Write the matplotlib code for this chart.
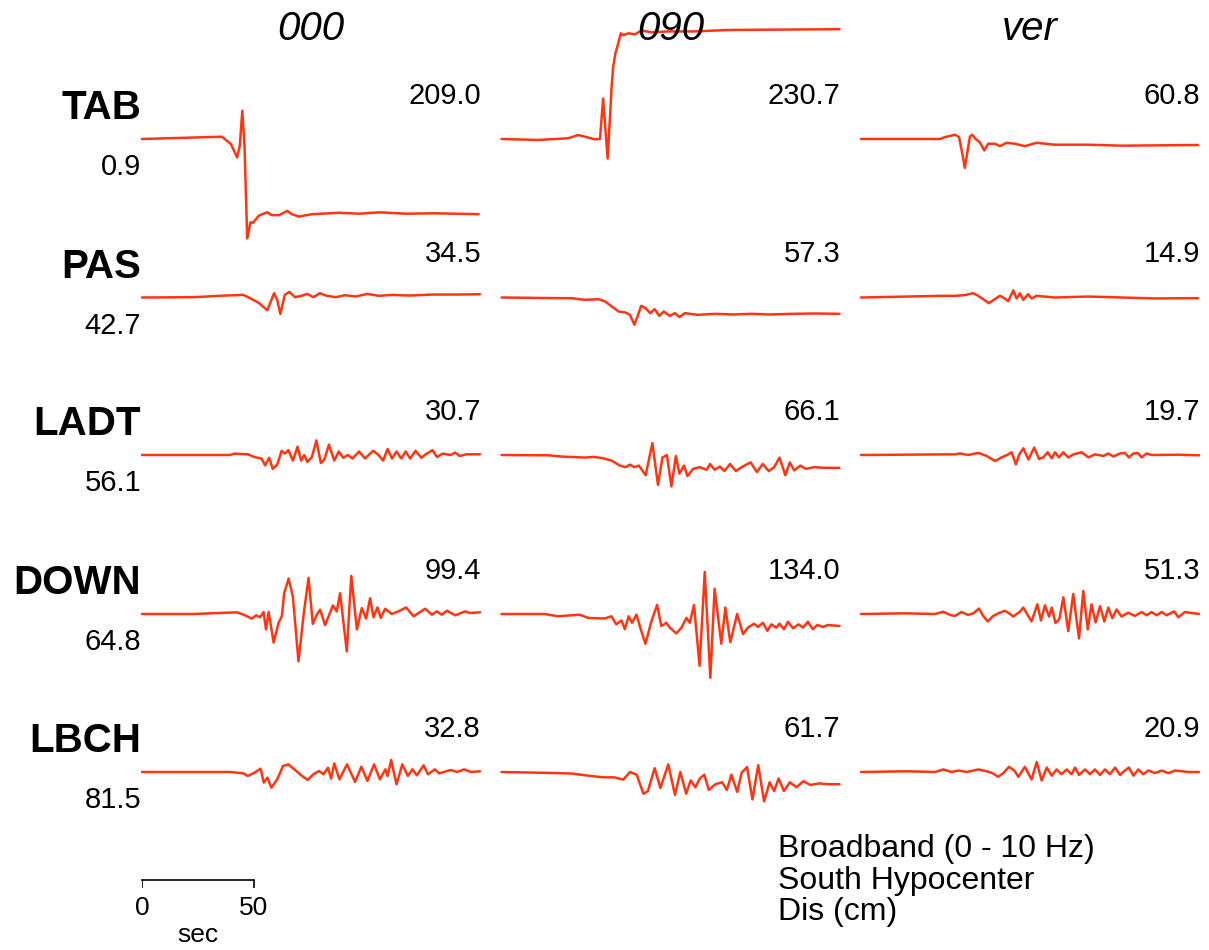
import matplotlib
matplotlib.use("Agg")
import matplotlib.pyplot as plt
from matplotlib import transforms

plt.rcParams['font.family'] = ['Liberation Sans', 'DejaVu Sans']

# ---- data: displacement traces, (time s, displacement cm) ----
TAB_000 = [(0, 0), (35.7, 4.8), (39.7, -10.5), (42.5, -38.6), (43.7, -14), (44.8, 59.4), (45.8, -14),
           (47.0, -209), (48.5, -175), (49.6, -176), (52.2, -161), (55.9, -154), (58.0, -160), (61.2, -160),
           (64.9, -151), (67.0, -158), (70.1, -163), (75.9, -158), (87.9, -155), (97, -157), (106, -154),
           (118, -157), (130, -156), (140, -157), (150.4, -158)]
TAB_090 = [(0, 0), (16.4, -2), (29.8, 1.5), (34.3, 8.4), (37.3, 4.8), (41.7, -0.6), (44.0, 0), (45.4, 85),
           (47.4, -41), (48.4, 40), (49.2, 110), (49.9, 152), (50.9, 180), (52.1, 200), (53.3, 222),
           (54.4, 218), (56.6, 222), (59.6, 220), (62.6, 228), (67.1, 224), (74.5, 226), (86.4, 226),
           (101.2, 229), (151, 230.7)]
TAB_VER = [(0, 0), (35.3, 0), (37.5, 4), (42, 9), (43.8, 4), (45.2, -29), (46.4, -60.8), (47.7, -22),
           (48.7, 5.5), (49.7, 9), (51.2, 0), (53.1, -7), (55.1, -24), (56.8, -10), (59.8, -10), (62.1, -15),
           (65, -8), (68.8, -10), (73.2, -15), (78.4, -8), (86.6, -12), (101.5, -12), (116.4, -14),
           (150.6, -12.6)]

PAS_000 = [(0, 0), (23.2, 0.7), (37.2, 4.1), (45.3, 5.5), (48.3, -1.4), (52.3, -11.7), (56, -26.9), (59, 9),
           (60.4, -4.8), (61.8, -34.5), (63.8, 5.5), (65.8, 11.7), (68.4, 0.7), (71.1, 3.5), (73.9, 7.6),
           (76.5, 0.7), (79.5, 9), (82.5, 3.5), (86.6, 0.7), (90.6, 4.8), (95.6, 2.1), (100.7, 7.6),
           (105.7, 3.5), (111.7, 5.5), (119.8, 4.1), (129.8, 6.2), (139.9, 6.2), (151, 6.9)]
PAS_090 = [(0, 0), (25.2, -1.4), (31.2, -1.4), (37.2, -4.9), (43.3, -3.5), (46.3, -8.4), (49.3, -18.9),
           (52.3, -29.4), (55.4, -31.5), (57.4, -36.4), (59.4, -57.3), (61, -36.4), (62.4, -17.5),
           (64.4, -22.4), (66.4, -32.9), (68.4, -24.5), (70.5, -38.5), (72.5, -29.4), (75.1, -38.5),
           (77.5, -32.9), (79.5, -41.3), (81.9, -32.9), (87.6, -36.4), (95.6, -34.3), (103.7, -35.7),
           (111.7, -34.3), (119.8, -35.7), (129.8, -34.3), (139.9, -33.6), (151, -34.3)]
PAS_VER = [(0, 0), (36, 3.5), (42, 3.5), (46.4, 5), (50.1, 9), (52.4, 3.5), (54.6, -3.5), (57.1, -12),
           (59.8, -3.5), (62.1, 3.5), (63.5, 0), (65.8, -7.7), (68, 14.9), (69.5, -2), (71, 9), (72.5, -5),
           (74.7, 7), (76.2, -2), (78.4, 3.5), (86.6, 0), (101.5, 2), (116.4, 0), (131.3, -2), (150.6, -1.4)]

LADT_000 = [(0, 0), (39.3, 0), (41.3, 2.9), (47.3, 1.5), (50.3, -4.4), (53.4, -7.3), (55, -21.9), (56.8, -5.8),
            (58.4, -29.2), (60.4, -20.4), (62.4, 8.8), (63.8, 2.9), (65.4, 10.2), (67.4, -11.7), (69.5, 17.5),
            (71.1, -11.7), (72.5, 0), (73.9, -14.6), (75.9, -4.4), (77.9, 30.7), (79.9, -16.8), (81.5, -9.5),
            (83.5, 21.9), (85.9, -11.7), (87.9, 7.3), (89.9, -5.8), (92, 0), (94, -7.3), (97, 7.3),
            (99.6, -7.3), (103.3, 8.8), (105.7, 0), (107.7, -11.7), (109.7, 12.4), (111.7, -7.3), (113.7, 7.3),
            (115.8, -7.3), (117.8, 7.3), (119.8, -7.3), (122.2, 8.8), (124.8, -5.8), (126.8, 1.5),
            (129.8, 10.2), (131.8, -4.4), (134.3, 2.9), (137.9, 0), (139.9, 5.1), (141.9, -2.2), (144.9, 1.5),
            (151, 1.5)]
LADT_090 = [(0, 0), (21.1, -0.7), (27.2, -3.4), (37.2, -5.4), (41.3, -4), (45.3, -6.7), (49.3, -12.1),
            (52.9, -22.3), (55.4, -25.6), (57.4, -20.2), (59.4, -25.6), (61.4, -22.3), (64.4, -42.5),
            (67.4, 25), (69.9, -62.8), (71.9, -5.4), (73.9, 0), (75.9, -66.1), (77.9, -2), (79.5, -39.1),
            (81.5, -22.3), (83.1, -44.5), (85.6, -29), (88.6, -25.6), (91.6, -31), (93.2, -18.9), (95.2, -31),
            (97.6, -24.3), (99.6, -33.7), (102.1, -18.9), (104.7, -33.7), (107.7, -24.3), (111.3, -15.5),
            (114.1, -35.8), (116.7, -18.9), (119.4, -33.7), (121.8, -25.6), (124.2, -5.4), (126.8, -42.5),
            (128.8, -15.5), (130.8, -32.4), (133.5, -22.3), (135.9, -29), (139.9, -25.6), (143.9, -27),
            (151, -27)]
LADT_VER = [(0, 0), (36.8, 1.3), (42, 1.3), (44.2, 3.2), (47.9, 0), (52.4, 4.4), (56.1, -1.9), (59.9, -12.7),
            (62.8, -5.1), (65.8, 1.3), (67.3, 5.7), (69.2, -19.7), (70.7, 1.3), (72.5, 14), (74.8, -9.5),
            (77.4, 15.9), (79.5, -8.3), (81.4, -5.1), (83.4, 5.7), (85.2, -7), (86.7, 5.7), (88.4, -5.1),
            (90.4, 5.7), (92.6, -5.1), (94.9, 1.3), (98.6, 5.7), (101.6, -5.1), (104.5, 1.3), (108.3, -1.9),
            (110.5, 3.2), (112.7, -3.2), (115.7, 3.2), (117.9, 4.4), (119.7, -5.1), (121.7, 3.2), (123.6, 4.4),
            (125.4, -5.1), (127.6, 3.2), (129.8, 0), (141.8, 0.6), (151, -0.6)]

DOWN_000 = [(0, 0), (23.1, 0), (42.4, 3.5), (45.4, -1.4), (49.1, -9.7), (51, -2.8), (52.8, -6.9), (54.3, 4.1),
            (55.4, -32.4), (56.6, 4.1), (58.8, -60), (61, -18.6), (62.5, -4.8), (63.5, 43.5), (65.5, 74.5),
            (67.4, 36.6), (69.9, -99.4), (72.2, -1.4), (74.4, 75.9), (76.3, -20.7), (78.1, -1.4), (79.6, 9),
            (81.8, -23.5), (85.3, 17.9), (87, 5.5), (88.5, 43.5), (91.5, -78.7), (93.5, 80), (96, -32.4),
            (98.2, 12.4), (100.1, -9.7), (101.9, 33.1), (103.4, -6.9), (105.2, 13.8), (106.7, -8.3),
            (108.6, 11), (111.6, 0), (114.6, 5.5), (118, 13.8), (121.3, -4.8), (126.5, 11), (129.5, -1.4),
            (131.7, 5.5), (133.9, -1.4), (136.2, 6.9), (140, -2.8), (144.3, 5.5), (146.6, 2.1), (151, 3.5)]
DOWN_090 = [(0, 0), (19.3, 0), (25.3, -4.8), (34.9, -1.4), (38.7, -8.2), (46.1, -9.5), (49.1, -4.8),
            (51.3, -21.8), (53.6, -13.6), (55.1, -32), (56.8, -4.8), (58.3, -18.4), (60.3, -1.4), (62.2, -32),
            (64.3, -62.6), (67, -15), (69.5, 19), (71.4, -25.2), (73.7, -18.4), (75.2, -28.6), (78.1, -40.8),
            (80.4, -28.6), (82.6, -8.2), (84.1, -18.4), (86, 19), (88.5, -108.8), (90.8, 88.4), (93.3, -134),
            (95.2, 53), (98.2, -62.6), (100, 13.6), (102.2, -59.2), (105.3, 0), (107.9, -42.2), (110.1, -28.6),
            (112.8, -20.4), (114.6, -27.2), (116.8, -18.4), (118.8, -35.4), (120.5, -21.8), (122.8, -28.6),
            (124.2, -20.4), (126.2, -32), (128, -16.3), (130.2, -29.9), (132.7, -21.8), (134.7, -28.6),
            (136.9, -16.3), (139.1, -32), (141.1, -23.1), (143.6, -27.2), (145.8, -23.1), (151, -25.2)]
DOWN_VER = [(0, 0), (19.7, 1.4), (33.1, 0), (36.8, 4.7), (39.8, -2), (42, -4.1), (44.9, 4.1), (47.9, -2),
            (50.2, 1.4), (52.7, 11.5), (54.6, -4.1), (56.6, -15.5), (59.1, -4.1), (61.3, 1.4), (64.3, 6.8),
            (66.6, 0), (68, -5.4), (71, 4.7), (72.5, 13.5), (74.7, -4.1), (76.2, -15.5), (78.8, 20.3),
            (80.4, -13.5), (82.2, 18.2), (84, -5.4), (85.2, 13.5), (86.9, -18.9), (88.6, -10.8), (90.4, 35.1),
            (92.6, -35.8), (94.8, 41.9), (97.4, -51.3), (99.3, 48.6), (101.3, -32.4), (103, 20.3),
            (104.8, -17.6), (106.8, 16.2), (108.7, -15.5), (110.5, 13.5), (112.3, -8.8), (114.2, 9.5),
            (116.4, -5.4), (119.4, 2.7), (122.4, -4.1), (125.4, 4.1), (127.6, -2.7), (129.8, 4.1),
            (132.1, -2.7), (134.3, 4.1), (136.5, -2.7), (139.9, 5.4), (141.8, -6.8), (144.7, 4.1), (151, 0)]

LBCH_000 = [(0, 0), (30.2, 0), (39.3, 0), (45.3, -2.8), (47.3, -8.4), (50.3, -1.4), (53, 7), (54.4, -22.3),
            (56, -11.9), (57.8, -32.8), (60.4, -15.4), (63, 12.6), (65.4, 16), (68.4, 4.2), (71.5, -8.4),
            (74.1, -16.7), (76.5, -4.9), (79.1, 2.1), (81.1, -4.9), (83.1, 9.1), (84.5, -14), (85.9, 18.1),
            (88.2, -15.4), (91.6, 16), (95.2, -20.9), (98, 11.2), (100.7, -18.8), (103.7, 16), (106.3, -15.4),
            (108.7, 5.6), (109.7, -8.4), (111.3, 25.1), (113.7, -25.8), (116.3, 16), (118.8, -8.4),
            (120.8, 5.6), (122.8, -7), (125.8, 14), (127.8, -4.9), (130.8, 5.6), (132.8, -2.8), (137.9, 4.2),
            (140.9, 0), (143.9, 5.6), (146.9, 0), (151, 1.4)]
LBCH_090 = [(0, 0), (18.1, -1.6), (31.2, -3.2), (39.3, -8), (45.3, -11.2), (50.3, -11.2), (54.4, -16),
            (57.4, 0), (60.4, -5.6), (63.4, -45.7), (65.4, -40.1), (68.4, 8), (71, -33.7), (74.5, 16),
            (77.5, -48.1), (79.9, 0), (82.5, -45.7), (84.5, -17.6), (86.6, -32.1), (88.6, -13.6), (90.6, -5.6),
            (92.6, -37.7), (95.6, -25.6), (98.6, -21.6), (100.7, -37.7), (102.7, -5.6), (105.3, -41.7),
            (107.3, -1.6), (109.7, 10.4), (112.1, -57.7), (114.7, 14.4), (117.3, -61.7), (119.8, -21.6),
            (121.8, -40.1), (123.8, -13.6), (126.2, -40.1), (128.8, -21.6), (131.8, -32.1), (134.9, -19.2),
            (137.9, -27.2), (141.9, -24), (145.9, -25.6), (151, -25.6)]
LBCH_VER = [(0, 0), (20.4, 1.5), (33.1, 0), (36.8, 5.4), (40.5, 0), (43.5, 3.1), (47.2, 0), (52.4, 5.4),
            (56.1, 1.5), (58.7, -2.3), (61.3, -10.1), (63.6, -2.3), (66.1, 10.8), (68.5, 3.1), (70.3, -10.1),
            (73.2, 10.8), (76.2, -15.5), (78.5, 20.9), (80.7, -17.8), (83, 9.3), (85.2, -7.7), (87.4, 5.4),
            (89.6, -4.6), (91.9, 5.4), (94.1, -4.6), (95.6, 9.3), (97.4, -6.2), (100.1, 5.4), (102.3, -4.6),
            (104.5, 5.4), (106.8, -6.2), (109, 5.4), (111.2, -4.6), (113.5, 9.3), (115.7, -6.2), (117.9, 3.1),
            (119.7, 9.3), (121.7, -7.7), (123.9, 5.4), (126.1, -4.6), (128.4, 3.1), (131.3, -2.3), (134.3, 3.1),
            (137.3, -2.3), (140.3, 3.1), (146.2, 0), (151, 0)]

STATIONS = ["TAB", "PAS", "LADT", "DOWN", "LBCH"]
DISTANCES = ["0.9", "42.7", "56.1", "64.8", "81.5"]
COMPONENTS = ["000", "090", "ver"]
PEAKS = [[209.0, 230.7, 60.8],
         [34.5, 57.3, 14.9],
         [30.7, 66.1, 19.7],
         [99.4, 134.0, 51.3],
         [32.8, 61.7, 20.9]]
TRACES = [[TAB_000, TAB_090, TAB_VER],
          [PAS_000, PAS_090, PAS_VER],
          [LADT_000, LADT_090, LADT_VER],
          [DOWN_000, DOWN_090, DOWN_VER],
          [LBCH_000, LBCH_090, LBCH_VER]]
SCALE_BAR_SEC = 50
NOTES = ["Broadband (0 - 10 Hz)", "South Hypocenter", "Dis (cm)"]

# ---- layout (pixels of a 1209x950 canvas) ----
W, H = 1209, 950
COL_LEFT = [142, 501.5, 861]
COL_W = 338
ROW_BASE = [139, 297.5, 455, 614, 772]
T_MAX = 151
PX_PER_CM = 0.476
Y_HALF = 260  # cm shown above/below baseline in every trace axes
COLOR = '#ff3512'

fig = plt.figure(figsize=(W / 100, H / 100), dpi=100)


def fx(px):
    return px / W


def fy(py):
    return 1 - py / H


half_px = Y_HALF * PX_PER_CM
for r, station in enumerate(STATIONS):
    base = ROW_BASE[r]
    for c in range(3):
        ax = fig.add_axes([fx(COL_LEFT[c]), fy(base + half_px), COL_W / W, 2 * half_px / H])
        ax.patch.set_alpha(0)
        ax.axis('off')
        pts = TRACES[r][c]
        ax.plot([p[0] for p in pts], [p[1] for p in pts], color=COLOR, lw=1.8,
                solid_joinstyle='round', solid_capstyle='round', clip_on=False)
        ax.set_xlim(0, T_MAX)
        ax.set_ylim(-Y_HALF, Y_HALF)
        fig.text(fx(COL_LEFT[c] + COL_W + 1), fy(base - 43), "%.1f" % PEAKS[r][c],
                 ha='right', va='center', fontsize=21)
    fig.text(fx(141), fy(base - 31), station, ha='right', va='center', fontsize=29, fontweight='bold')
    fig.text(fx(141), fy(base + 28), DISTANCES[r], ha='right', va='center', fontsize=21)

for c, comp in enumerate(COMPONENTS):
    fig.text(fx(COL_LEFT[c] + COL_W / 2), fy(29), comp, ha='center', va='center',
             fontsize=29, style='italic', zorder=10)

# time scale bar
sb = fig.add_axes([fx(COL_LEFT[0]), fy(890), COL_W / W, 12 / H])
sb.axis('off')
sb.set_xlim(0, T_MAX)
sb.set_ylim(-1, 0.2)
sb.plot([0, SCALE_BAR_SEC], [0, 0], color='black', lw=1.2, clip_on=False)
sb.vlines([0, SCALE_BAR_SEC], -0.75, 0, color='black', lw=1.2)
tr = transforms.blended_transform_factory(sb.transData, fig.transFigure)
sb.text(0, fy(908), "0", transform=tr, ha='center', va='center', fontsize=19)
sb.text(SCALE_BAR_SEC, fy(908), str(SCALE_BAR_SEC), transform=tr, ha='center', va='center', fontsize=19)
sb.text(SCALE_BAR_SEC / 2, fy(935), "sec", transform=tr, ha='center', va='center', fontsize=19)

for i, note in enumerate(NOTES):
    fig.text(fx(778), fy(849 + 31.5 * i), note, ha='left', va='center', fontsize=23)

fig.savefig("out.png", dpi=100)
